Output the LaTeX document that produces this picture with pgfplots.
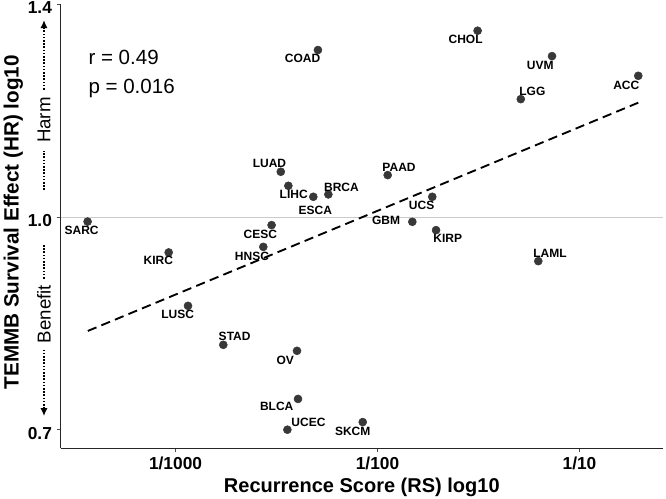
\documentclass[border=0pt]{standalone}
\usepackage{fontspec}
\setmainfont{Liberation Sans}
\usepackage{pgfplots}
\usepackage{pgfplotstable}
\pgfplotsset{compat=1.18}
\usetikzlibrary{arrows.meta}

% x = RS, y = HR; dx/dy = label offset in pt
\pgfplotstableread{
name x y dx dy
SARC 3.67e-4 0.9927 -4.5 -6.8
COAD 5.07e-3 1.313 -11.5 -6.5
CHOL 0.0313 1.355 -9.0 -6.5
UVM 0.0731 1.300 -8.8 -6.8
ACC 0.1954 1.259 -9.0 -6.8
LGG 0.0512 1.212 8.7 6.2
LUAD 3.32e-3 1.0767 -8.5 6.3
LIHC 3.62e-3 1.0524 4.0 -6.5
ESCA 4.81e-3 1.0337 1.5 -10.5
BRCA 5.71e-3 1.0377 9.8 5.0
PAAD 0.01123 1.0709 8.5 5.8
UCS 0.01867 1.0337 -8.0 -6.2
GBM 0.01487 0.9924 -19.7 0.8
KIRP 0.01949 0.9790 8.8 -5.8
LAML 0.0625 0.9308 8.8 5.8
CESC 2.99e-3 0.9871 -8.5 -7.0
HNSC 2.72e-3 0.9527 -8.5 -6.8
KIRC 9.25e-4 0.9441 -7.8 -6.3
LUSC 1.153e-3 0.8654 -7.7 -6.2
STAD 1.724e-3 0.8121 8.5 6.0
OV 3.995e-3 0.8042 -8.8 -7.0
BLCA 4.04e-3 0.7436 -16.0 -5.5
UCEC 3.58e-3 0.7072 15.8 5.7
SKCM 8.45e-3 0.7161 -7.5 -6.8
}\pts

\begin{document}
\begin{tikzpicture}
\begin{axis}[
    scale only axis,
    width=451.7pt, height=333.2pt,
    xmode=log, ymode=log,
    xmin=2.70e-4, xmax=0.259,
    ymin=0.686, ymax=1.415,
    axis lines*=left,
    axis line style={line width=1pt, black!85},
    xtick={0.001,0.01,0.1},
    xticklabels={1/1000,1/100,1/10},
    ytick={0.70711,1,1.41421},
    yticklabels={0.7,1.0,1.4},
    minor tick length=0pt,
    major tick length=3pt,
    tick align=outside,
    tick style={black!70, line width=0.8pt},
    ticklabel style={font=\bfseries\fontsize{13}{15}\selectfont},
    yticklabel style={yshift=-2.5pt},
    /pgf/number format/assume math mode=true,
    xlabel={Recurrence Score (RS) log10},
    ylabel={TEMMB Survival Effect (HR) log10},
    every axis x label/.style={at={(axis description cs:0.5,0)}, anchor=center, yshift=-29pt,
        font=\bfseries\fontsize{15}{18}\selectfont},
    every axis y label/.style={at={(axis description cs:0,0.5)}, xshift=-35.5pt, yshift=3pt, rotate=90, anchor=center,
        font=\bfseries\fontsize{15.5}{18}\selectfont},
    clip=false,
]
\coordinate (SW) at (rel axis cs:0,0);
\coordinate (NE) at (rel axis cs:1,1);

% reference line at HR = 1
\addplot[black!20, line width=0.8pt] coordinates {(2.70e-4,1) (0.259,1)};

% regression line
\addplot[black, line width=1.4pt, dash pattern=on 7pt off 4pt]
    coordinates {(3.68e-4,0.8307) (0.1954,1.205)};

% cancer types
\addplot[
    only marks, mark=*, mark size=3pt,
    mark options={fill=black!78, draw=black!78},
    point meta=explicit symbolic,
    nodes near coords,
    visualization depends on={\thisrow{dx} \as \dx},
    visualization depends on={\thisrow{dy} \as \dy},
    every node near coord/.append style={anchor=center, xshift=\dx pt, yshift=\dy pt,
        font=\bfseries\fontsize{9}{10}\selectfont, text=black, inner sep=0pt},
] table[x=x, y=y, meta=name] {\pts};

% label leader segments
\draw[black!80, line width=0.6pt] (axis cs:0.01487,0.9924) ++(-3.5pt,0) -- ++(-5.5pt,0);
\draw[black!80, line width=0.6pt] (axis cs:4.81e-3,1.0337) ++(0,-3pt) -- ++(0,-4pt);

\node[anchor=base west, inner sep=0pt, font=\fontsize{15.4}{18}\selectfont] at (rel axis cs:0.0458,0.8652) {r = 0.49};
\node[anchor=base west, inner sep=0pt, font=\fontsize{15.4}{18}\selectfont] at (rel axis cs:0.0458,0.7992) {p = 0.016};

% harm / benefit annotation
\tikzset{hb/.style={line width=1.6pt, dash pattern=on 1.2pt off 1.2pt}}
\draw[hb, -{Latex[length=6pt,width=5.5pt]}]
    (rel axis cs:-0.0277,0.8075) -- (rel axis cs:-0.0277,0.9641);
\draw[hb] (rel axis cs:-0.0277,0.5815) -- (rel axis cs:-0.0277,0.6705);
\node[rotate=90, font=\fontsize{14}{16}\selectfont] at (rel axis cs:-0.0277,0.739) {Harm};
\draw[hb] (rel axis cs:-0.0277,0.3821) -- (rel axis cs:-0.0277,0.4599);
\node[rotate=90, font=\fontsize{14}{16}\selectfont] at (rel axis cs:-0.0277,0.3024) {Benefit};
\draw[hb, -{Latex[length=6pt,width=5.5pt]}]
    (rel axis cs:-0.0277,0.2226) -- (rel axis cs:-0.0277,0.0728);
\end{axis}
\pgfresetboundingbox
\path[use as bounding box] ([shift={(-45.5pt,-37.3pt)}]SW) rectangle ([shift={(2.25pt,3.1pt)}]NE);
\end{tikzpicture}
\end{document}
